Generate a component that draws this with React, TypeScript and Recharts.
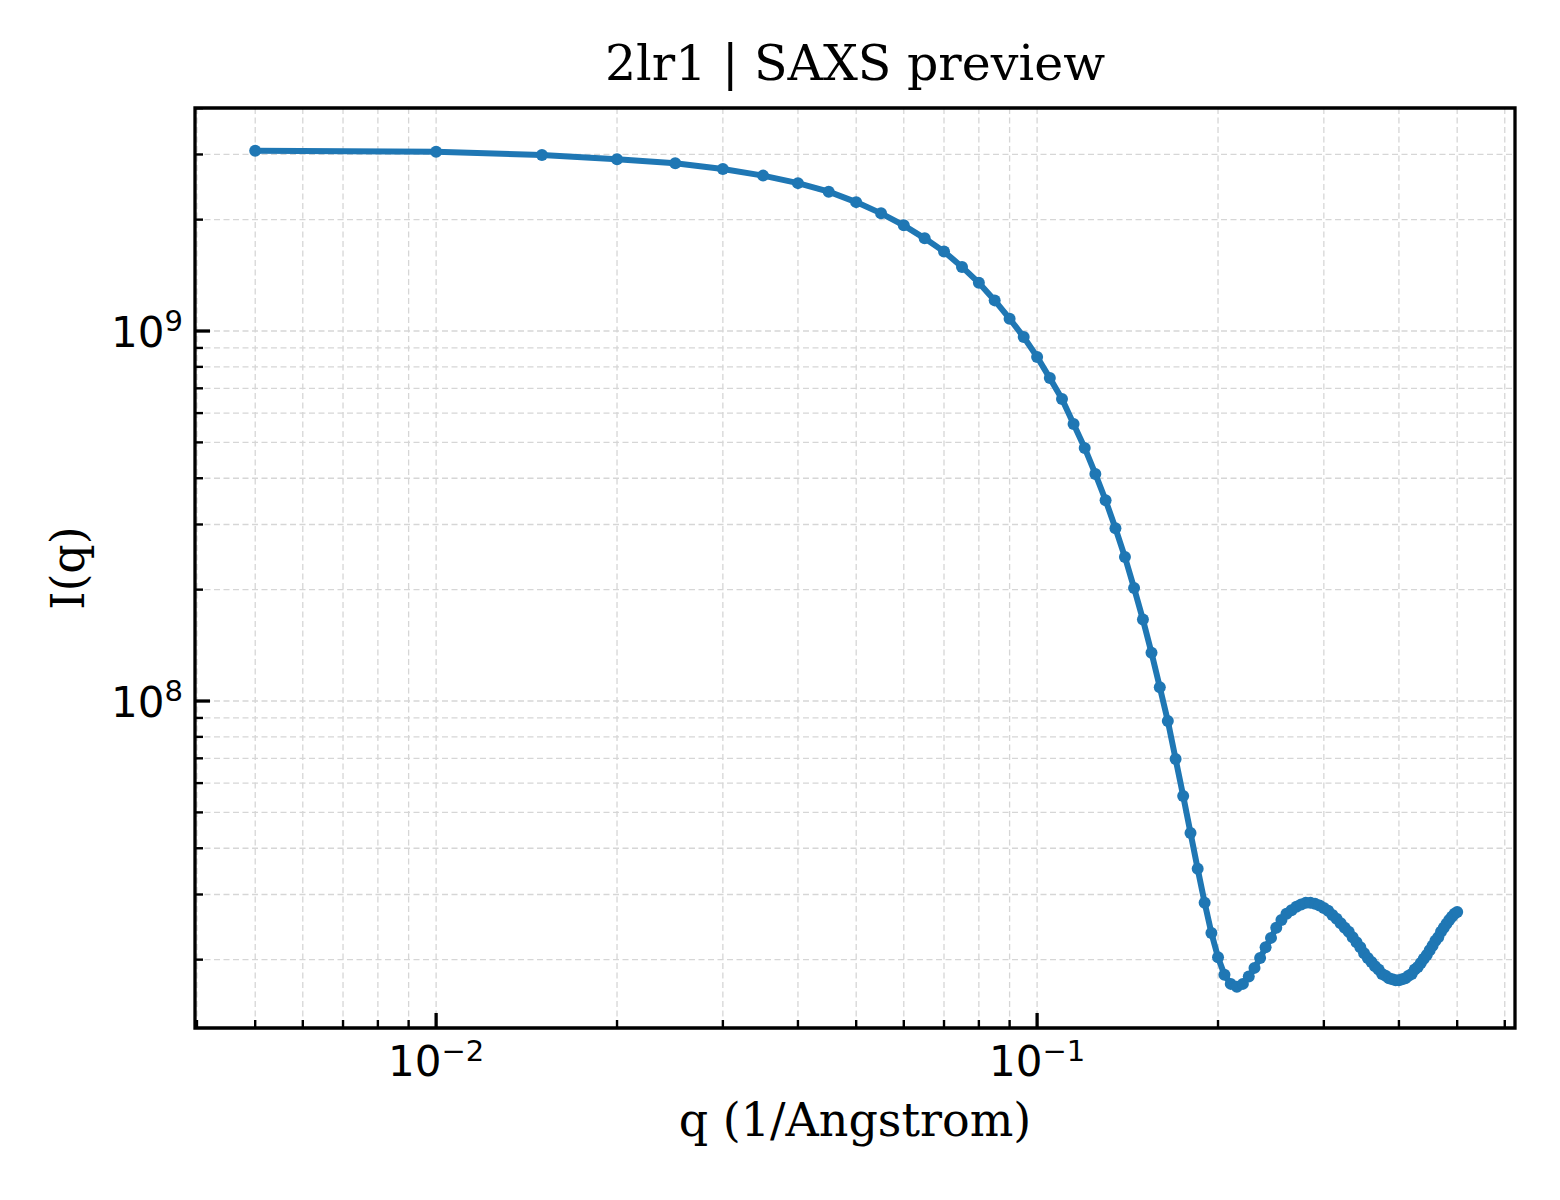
import { LineChart, Line, XAxis, YAxis, CartesianGrid, ReferenceArea, Label } from "recharts";

// q in 1/Angstrom
const qValues = [
  0.005, 0.01, 0.015, 0.02, 0.025, 0.03, 0.035, 0.04, 0.045, 0.05,
  0.055, 0.06, 0.065, 0.07, 0.075, 0.08, 0.085, 0.09, 0.095, 0.1,
  0.105, 0.11, 0.115, 0.12, 0.125, 0.13, 0.135, 0.14, 0.145, 0.15,
  0.155, 0.16, 0.165, 0.17, 0.175, 0.18, 0.185, 0.19, 0.195, 0.2,
  0.205, 0.21, 0.215, 0.22, 0.225, 0.23, 0.235, 0.24, 0.245, 0.25,
  0.255, 0.26, 0.265, 0.27, 0.275, 0.28, 0.285, 0.29, 0.295, 0.3,
  0.305, 0.31, 0.315, 0.32, 0.325, 0.33, 0.335, 0.34, 0.345, 0.35,
  0.355, 0.36, 0.365, 0.37, 0.375, 0.38, 0.385, 0.39, 0.395, 0.4,
  0.405, 0.41, 0.415, 0.42, 0.425, 0.43, 0.435, 0.44, 0.445, 0.45,
  0.455, 0.46, 0.465, 0.47, 0.475, 0.48, 0.485, 0.49, 0.495, 0.5,
];

const intensity = [
  3.07e9, 3.05e9, 2.99e9, 2.91e9, 2.84e9, 2.74e9, 2.63e9, 2.51e9, 2.38e9, 2.23e9,
  2.08e9, 1.93e9, 1.78e9, 1.64e9, 1.49e9, 1.35e9, 1.21e9, 1.08e9, 9.63e8, 8.51e8,
  7.46e8, 6.55e8, 5.61e8, 4.83e8, 4.11e8, 3.49e8, 2.93e8, 2.45e8, 2.02e8, 1.66e8,
  1.35e8, 1.09e8, 8.83e7, 6.97e7, 5.54e7, 4.4e7, 3.52e7, 2.85e7, 2.36e7, 2.03e7,
  1.82e7, 1.72e7, 1.69e7, 1.72e7, 1.8e7, 1.9e7, 2.02e7, 2.16e7, 2.29e7, 2.44e7,
  2.56e7, 2.66e7, 2.72e7, 2.78e7, 2.82e7, 2.85e7, 2.85e7, 2.83e7, 2.8e7, 2.76e7,
  2.71e7, 2.64e7, 2.58e7, 2.51e7, 2.44e7, 2.38e7, 2.3e7, 2.23e7, 2.16e7, 2.08e7,
  2.02e7, 1.97e7, 1.92e7, 1.88e7, 1.83e7, 1.81e7, 1.78e7, 1.77e7, 1.76e7, 1.76e7,
  1.77e7, 1.78e7, 1.81e7, 1.83e7, 1.88e7, 1.91e7, 1.96e7, 2.01e7, 2.06e7, 2.12e7,
  2.18e7, 2.25e7, 2.3e7, 2.38e7, 2.44e7, 2.5e7, 2.56e7, 2.61e7, 2.66e7, 2.69e7,
];

const xMajorTicks = [0.01, 0.1];
const xMajorExponents = ["−2", "−1"];
const xMinorTicks = [
  0.004, 0.005, 0.006, 0.007, 0.008, 0.009,
  0.02, 0.03, 0.04, 0.05, 0.06, 0.07, 0.08, 0.09,
  0.2, 0.3, 0.4, 0.5, 0.6,
];
const yMajorTicks = [1e8, 1e9];
const yMajorExponents = ["8", "9"];
const yMinorTicks = [
  2e7, 3e7, 4e7, 5e7, 6e7, 7e7, 8e7, 9e7,
  2e8, 3e8, 4e8, 5e8, 6e8, 7e8, 8e8, 9e8,
  2e9, 3e9, 4e9,
];

const xDomain = [0.00397, 0.624];
const yDomain = [1.307e7, 4.006e9];

const data = qValues.map((q, i) => ({ q, I: intensity[i] }));

const BLUE = "#1f77b4";
const SERIF = "'DejaVu Serif', serif";
const SANS = "'DejaVu Sans', sans-serif";

const XTick = ({ x, y, payload }: any) => {
  const idx = xMajorTicks.indexOf(payload.value);
  const major = idx >= 0;
  return (
    <g>
      <line x1={x} x2={x} y1={y} y2={y - (major ? 15 : 8)} stroke="#000" strokeWidth={major ? 3.3 : 2.4} />
      {major && (
        <text x={x} y={y + 48} textAnchor="middle" fontFamily={SANS} fontSize={42} fill="#000">
          10
          <tspan dy={-15} fontSize={29}>{xMajorExponents[idx]}</tspan>
        </text>
      )}
    </g>
  );
};

const YTick = ({ x, y, payload }: any) => {
  const idx = yMajorTicks.indexOf(payload.value);
  const major = idx >= 0;
  return (
    <g>
      <line x1={x} x2={x + (major ? 15 : 8)} y1={y} y2={y} stroke="#000" strokeWidth={major ? 3.3 : 2.4} />
      {major && (
        <text x={x - 12} y={y + 16} textAnchor="end" fontFamily={SANS} fontSize={42} fill="#000">
          10
          <tspan dy={-16} fontSize={29}>{yMajorExponents[idx]}</tspan>
        </text>
      )}
    </g>
  );
};

const App = () => {
  return (
    <div style={{ position: "absolute", left: 0, top: 0, width: 1560, height: 1200, background: "#fff" }}>
      <div
        style={{
          position: "absolute",
          left: 195,
          top: 35,
          width: 1320,
          textAlign: "center",
          fontFamily: SERIF,
          fontSize: 49,
          color: "#000",
        }}
      >
        2lr1 | SAXS preview
      </div>
      <LineChart width={1560} height={1200} data={data} margin={{ top: 108, right: 45, bottom: 0, left: 0 }}>
        <CartesianGrid stroke="#d6d6d6" strokeWidth={1.3} strokeDasharray="6 3.5" />
        <XAxis
          dataKey="q"
          type="number"
          scale="log"
          domain={xDomain}
          allowDataOverflow
          ticks={[...xMinorTicks, ...xMajorTicks].sort((a, b) => a - b)}
          interval={0}
          tickSize={0}
          tickMargin={0}
          tickLine={false}
          axisLine={false}
          height={172}
          tick={(p: any) => <XTick {...p} />}
        >
          <Label
            content={({ viewBox }: any) => (
              <text
                x={viewBox.x + viewBox.width / 2}
                y={viewBox.y + 108}
                textAnchor="middle"
                fontFamily={SERIF}
                fontSize={46}
                fill="#000"
              >
                q (1/Angstrom)
              </text>
            )}
          />
        </XAxis>
        <YAxis
          type="number"
          scale="log"
          domain={yDomain}
          allowDataOverflow
          ticks={[...yMinorTicks, ...yMajorTicks].sort((a, b) => a - b)}
          interval={0}
          tickSize={0}
          tickMargin={0}
          tickLine={false}
          axisLine={false}
          width={195}
          tick={(p: any) => <YTick {...p} />}
        >
          <Label
            content={({ viewBox }: any) => {
              const cx = 84;
              const cy = viewBox.y + viewBox.height / 2;
              return (
                <text
                  x={cx}
                  y={cy}
                  transform={`rotate(-90, ${cx}, ${cy})`}
                  textAnchor="middle"
                  fontFamily={SERIF}
                  fontSize={46}
                  fill="#000"
                >
                  I(q)
                </text>
              );
            }}
          />
        </YAxis>
        <ReferenceArea
          x1={xDomain[0]}
          x2={xDomain[1]}
          y1={yDomain[0]}
          y2={yDomain[1]}
          fill="none"
          stroke="#000"
          strokeWidth={3.3}
          ifOverflow="visible"
        />
        <Line
          dataKey="I"
          type="linear"
          stroke={BLUE}
          strokeWidth={6}
          dot={{ r: 6, fill: BLUE, stroke: "none" }}
          isAnimationActive={false}
        />
      </LineChart>
    </div>
  );
};

export default App;
